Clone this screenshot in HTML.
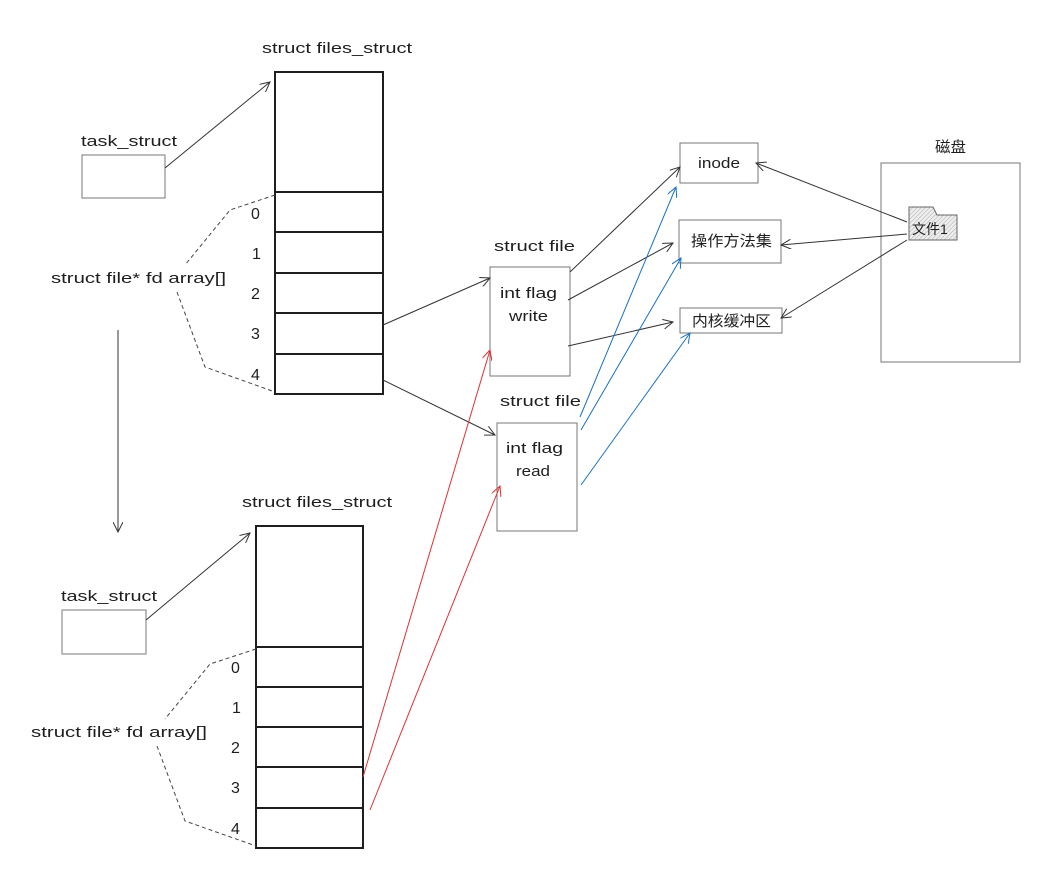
<!DOCTYPE html>
<html><head><meta charset="utf-8"><style>
html,body{margin:0;padding:0;background:#fff;}
svg{display:block;}
text{font-family:"Liberation Sans","Noto Sans CJK SC",sans-serif;fill:#1e1e1e;}
</style></head><body>
<svg width="1057" height="881" viewBox="0 0 1057 881" xmlns="http://www.w3.org/2000/svg">
<defs>
<marker id="ak" markerWidth="12" markerHeight="10" refX="10" refY="5" orient="auto" markerUnits="userSpaceOnUse"><path d="M0,0 L10,5 L0,10" fill="none" stroke="#333" stroke-width="1"/></marker>
<marker id="ab" markerWidth="12" markerHeight="10" refX="10" refY="5" orient="auto" markerUnits="userSpaceOnUse"><path d="M0,0 L10,5 L0,10" fill="none" stroke="#1971c2" stroke-width="1"/></marker>
<marker id="ar" markerWidth="12" markerHeight="10" refX="10" refY="5" orient="auto" markerUnits="userSpaceOnUse"><path d="M0,0 L10,5 L0,10" fill="none" stroke="#e03131" stroke-width="1"/></marker>
<pattern id="hatch" width="3" height="3" patternUnits="userSpaceOnUse" patternTransform="rotate(45)"><rect width="3" height="3" fill="#eee"/><line x1="0" y1="0" x2="0" y2="3" stroke="#aaa" stroke-width="1"/></pattern>
</defs>
<g font-size="15">
<text x="262" y="53" textLength="150" lengthAdjust="spacingAndGlyphs">struct files_struct</text>
<text x="81" y="146" textLength="96" lengthAdjust="spacingAndGlyphs">task_struct</text>
<text x="51" y="283" textLength="175" lengthAdjust="spacingAndGlyphs">struct file* fd array[]</text>
<text x="242" y="507" textLength="150" lengthAdjust="spacingAndGlyphs">struct files_struct</text>
<text x="61" y="601" textLength="96" lengthAdjust="spacingAndGlyphs">task_struct</text>
<text x="31" y="737" textLength="176" lengthAdjust="spacingAndGlyphs">struct file* fd array[]</text>
<text x="494" y="251" textLength="81" lengthAdjust="spacingAndGlyphs">struct file</text>
<text x="500" y="406" textLength="81" lengthAdjust="spacingAndGlyphs">struct file</text>
<text x="500" y="298" textLength="57" lengthAdjust="spacingAndGlyphs">int flag</text>
<text x="509" y="321" textLength="39" lengthAdjust="spacingAndGlyphs">write</text>
<text x="506" y="453" textLength="57" lengthAdjust="spacingAndGlyphs">int flag</text>
<text x="516" y="476" textLength="34" lengthAdjust="spacingAndGlyphs">read</text>
<text x="698" y="168" textLength="42" lengthAdjust="spacingAndGlyphs">inode</text>
<text x="691" y="246" textLength="81" lengthAdjust="spacingAndGlyphs">操作方法集</text>
<text x="692" y="326" textLength="79" lengthAdjust="spacingAndGlyphs">内核缓冲区</text>
<text x="935" y="152" textLength="31" lengthAdjust="spacingAndGlyphs">磁盘</text>
</g>
<g font-size="16">
<text x="251" y="219">0</text><text x="252" y="259">1</text><text x="251" y="299">2</text><text x="251" y="339">3</text><text x="251" y="380">4</text>
<text x="231" y="673">0</text><text x="232" y="713">1</text><text x="231" y="753">2</text><text x="231" y="793">3</text><text x="231" y="834">4</text>
</g>
<g fill="none" stroke="#1e1e1e" stroke-width="2">
<rect x="275" y="72" width="108" height="322"/>
<line x1="275" y1="192" x2="383" y2="192"/><line x1="275" y1="232" x2="383" y2="232"/><line x1="275" y1="273" x2="383" y2="273"/><line x1="275" y1="313" x2="383" y2="313"/><line x1="275" y1="354" x2="383" y2="354"/>
<rect x="256" y="526" width="107" height="322"/>
<line x1="256" y1="647" x2="363" y2="647"/><line x1="256" y1="687" x2="363" y2="687"/><line x1="256" y1="727" x2="363" y2="727"/><line x1="256" y1="767" x2="363" y2="767"/><line x1="256" y1="808" x2="363" y2="808"/>
</g>
<g fill="none" stroke="#777" stroke-width="1">
<rect x="82" y="155" width="83" height="43"/>
<rect x="62" y="610" width="84" height="44"/>
<rect x="490" y="267" width="80" height="109"/>
<rect x="497" y="423" width="80" height="108"/>
<rect x="680" y="143" width="78" height="40"/>
<rect x="679" y="220" width="102" height="43"/>
<rect x="680" y="308" width="102" height="25"/>
<rect x="881" y="163" width="139" height="199"/>
</g>
<path d="M909,215 L909,207 L933,207 L937,215 L957,215 L957,240 L909,240 Z" fill="url(#hatch)" stroke="#666" stroke-width="1"/>
<text x="912" y="234" font-size="14">文件1</text>
<g fill="none" stroke="#444" stroke-width="1" stroke-dasharray="4,3">
<path d="M275,195 L230,210 L185,265"/><path d="M177,292 L205,367 L275,392"/>
<path d="M256,649 L210,664 L165,719"/><path d="M157,746 L185,821 L256,846"/>
</g>
<g fill="none" stroke="#333" stroke-width="1" marker-end="url(#ak)">
<line x1="118" y1="330" x2="118" y2="532"/>
<line x1="165" y1="168" x2="270" y2="82"/>
<line x1="146" y1="620" x2="250" y2="533"/>
<line x1="383" y1="325" x2="490" y2="278"/>
<line x1="383" y1="380" x2="495" y2="435"/>
<line x1="570" y1="272" x2="680" y2="167"/>
<line x1="568" y1="300" x2="673" y2="243"/>
<line x1="568" y1="346" x2="673" y2="322"/>
<line x1="907" y1="222" x2="756" y2="163"/>
<line x1="907" y1="234" x2="781" y2="245"/>
<line x1="907" y1="240" x2="781" y2="318"/>
</g>
<g fill="none" stroke="#1971c2" stroke-width="1" marker-end="url(#ab)">
<line x1="580" y1="417" x2="676" y2="187"/>
<line x1="581" y1="430" x2="681" y2="258"/>
<line x1="581" y1="485" x2="690" y2="333"/>
</g>
<g fill="none" stroke="#e03131" stroke-width="1" marker-end="url(#ar)">
<line x1="363" y1="777" x2="490" y2="350"/>
<line x1="370" y1="810" x2="500" y2="486"/>
</g>
</svg>
</body></html>
